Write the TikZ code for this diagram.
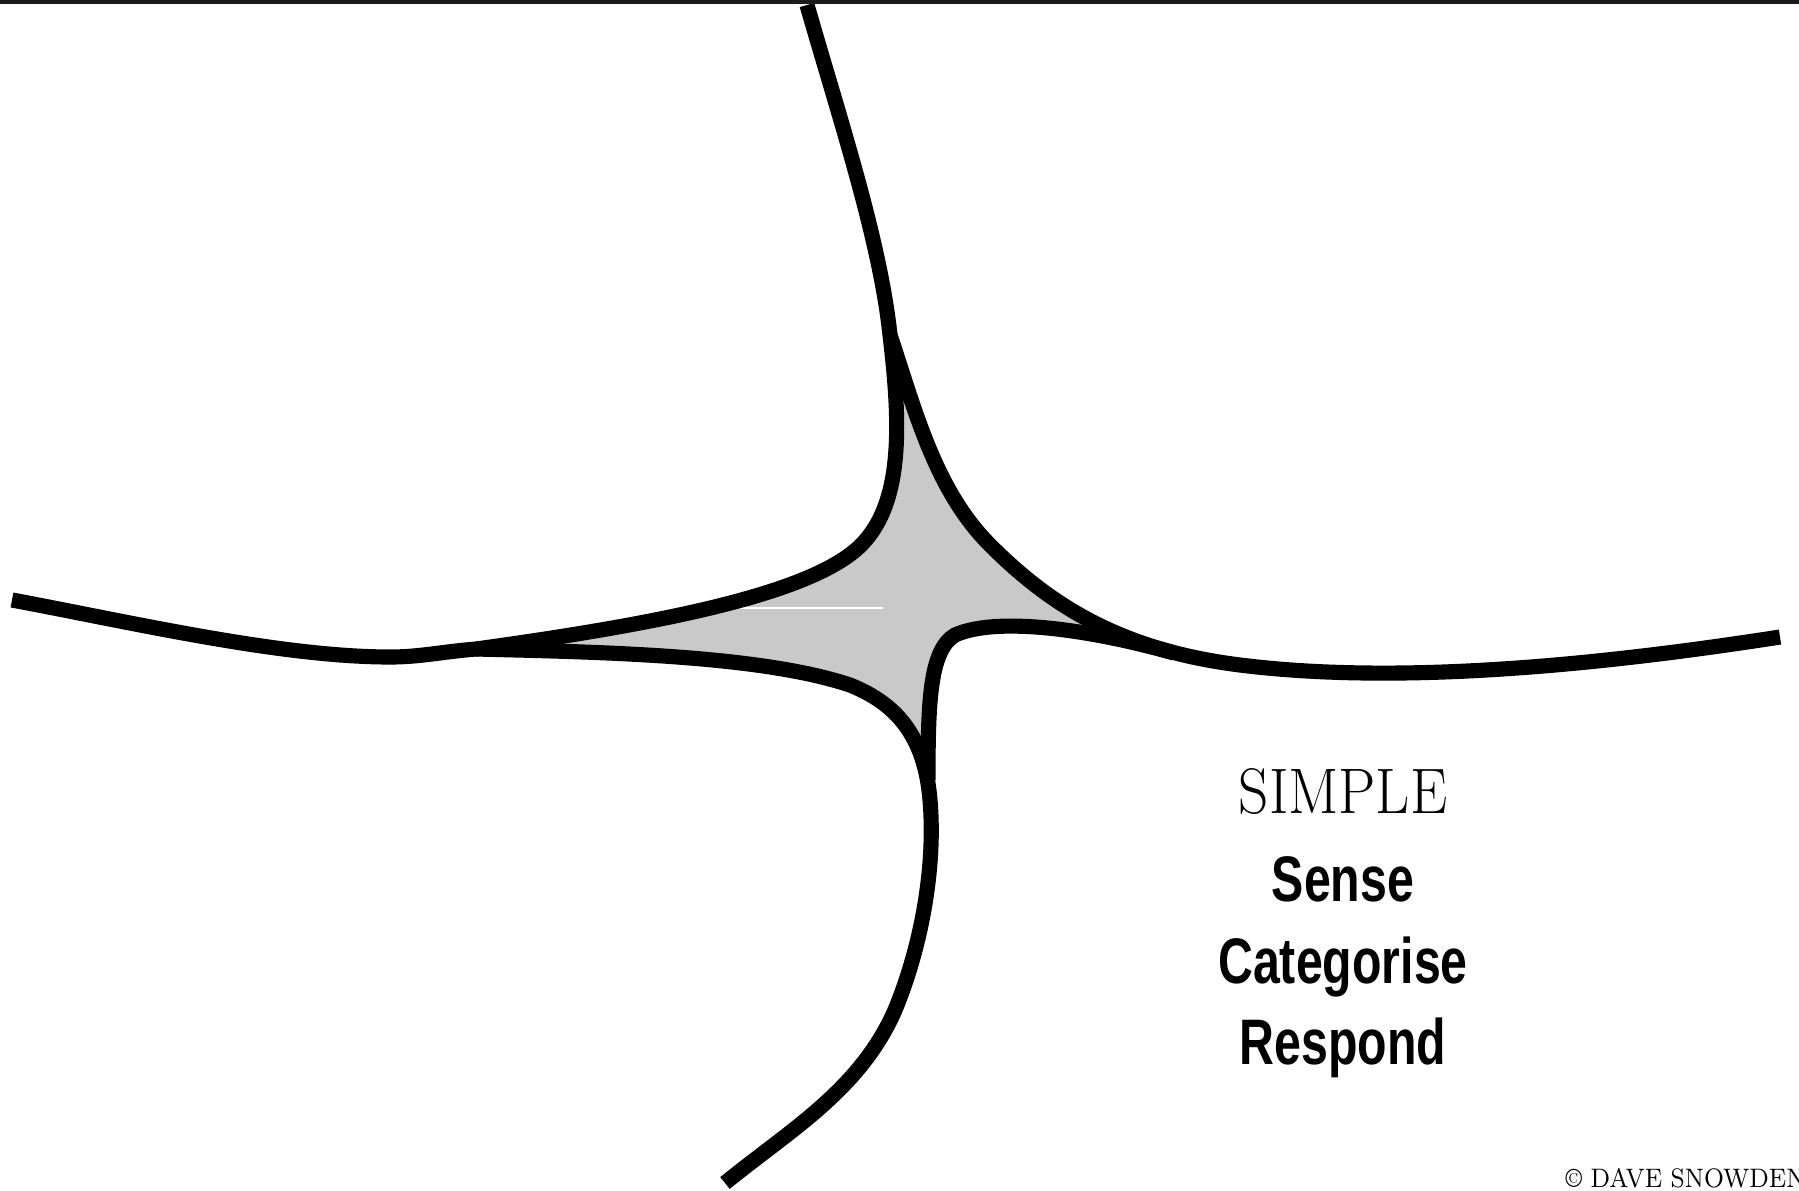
\documentclass[tikz,border=0pt]{standalone}
\usepackage{fontspec}
\newfontfamily\actfont{Liberation Sans}
\definecolor{cuspgray}{RGB}{201,201,201}
\definecolor{topband}{RGB}{28,28,28}
\tikzset{
domline/.style={line width=4.3pt,black},
cusp/.style={fill=cuspgray},
seam/.style={white,line width=0.6pt},
domtitle/.style={font=\fontsize{18.3}{20}\selectfont,xscale=0.92,anchor=base,inner sep=0pt},
actword/.style={font=\actfont\bfseries\fontsize{18.3}{20}\selectfont,xscale=0.75,anchor=base,inner sep=0pt},
credit/.style={font=\fontsize{7.6}{8}\selectfont,xscale=0.9,anchor=base west,inner sep=0pt}
}

\begin{document}
\begin{tikzpicture}[x=0.01cm,y=-0.01cm]
\clip (0,0) rectangle (1799,1190);
\fill[white] (0,0) rectangle (1799,1190);
\coordinate (topend) at (807,5);
\coordinate (leftend) at (12,600);
\coordinate (rightend) at (1780,637);
\coordinate (bottomend) at (725,1183);
\coordinate (topcusp) at (890,335);
\coordinate (leftcusp) at (476,649);
\coordinate (bottomcusp) at (930,800);
\coordinate (rightcusp) at (1174,653);
\path[cusp] (topcusp) .. controls (900,420) and (905,505) .. (858,548) .. controls (805,596) and (650,625) .. (leftcusp)
 .. controls (600,652) and (760,655) .. (850,685) .. controls (900,705) and (925,740) .. (bottomcusp)
 -- (928,780) .. controls (928,700) and (930,650) .. (955,635) .. controls (1000,615) and (1100,632) .. (rightcusp)
 .. controls (1100,640) and (1040,600) .. (990,545) .. controls (935,490) and (915,410) .. (topcusp) -- cycle;
\draw[seam] (740,608) -- (883,608);
\draw[domline] (topend) .. controls (840,120) and (880,240) .. (topcusp)
 .. controls (900,420) and (905,505) .. (858,548) .. controls (805,596) and (650,625) .. (leftcusp)
 .. controls (440,652) and (420,657) .. (390,657) .. controls (280,657) and (130,622) .. (leftend);
\draw[domline] (topcusp) .. controls (915,410) and (935,490) .. (990,545)
 .. controls (1050,605) and (1120,650) .. (1240,665) .. controls (1400,685) and (1600,665) .. (rightend);
\draw[domline] (leftcusp) .. controls (600,652) and (760,655) .. (850,685) .. controls (900,705) and (925,740) .. (bottomcusp)
 .. controls (936,870) and (920,950) .. (895,1010) .. controls (860,1090) and (790,1130) .. (bottomend);
\draw[domline] (rightcusp) .. controls (1100,632) and (1000,615) .. (955,635) .. controls (930,650) and (928,700) .. (928,780);
\fill[topband] (0,0) rectangle (1799,4);
\node[domtitle] (simple) at (1343,813) {SIMPLE};
\node[actword] (sense) at (1343,901) {Sense};
\node[actword] (categorise) at (1343,983) {Categorise};
\node[actword] (respond) at (1343,1064) {Respond};
\node[credit] (copy) at (1565,1187) {\textcopyright{} DAVE SNOWDEN};
\end{tikzpicture}
\end{document}
